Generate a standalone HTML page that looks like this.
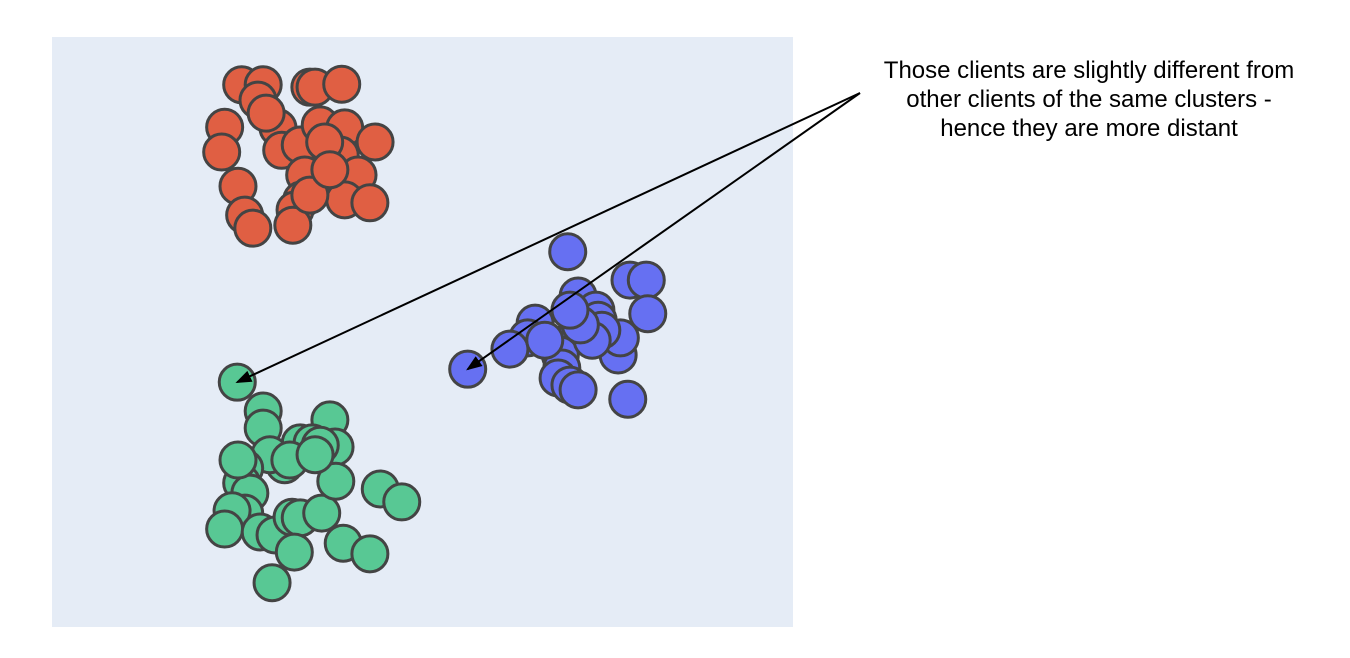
<!DOCTYPE html>
<html><head><meta charset="utf-8"><style>
body{margin:0;background:#fff;}
svg{display:block;font-family:"Liberation Sans",sans-serif;}
</style></head><body>
<svg id="chart" width="1350" height="658">
<defs><marker id="ah" markerWidth="8" markerHeight="6" refX="7" refY="3" orient="auto"><path d="M0,0 L8,3 L0,6 z" fill="#000"/></marker></defs>
<rect x="52" y="37" width="741" height="590" fill="#e5ecf6"/>
<g id="points"></g>
<g id="annot"></g>
<text x="1089" y="78" font-size="24" text-anchor="middle">Those clients are slightly different from</text>
<text x="1089" y="107" font-size="24" text-anchor="middle">other clients of the same clusters -</text>
<text x="1089" y="136" font-size="24" text-anchor="middle">hence they are more distant</text>
</svg>
<script>
const redX=[2.56,2.85,2.78,3.48,3.55,3.91,2.33,2.29,3.05,2.89,3.10,3.35,3.62,3.95,4.36,3.89,3.68,3.41,3.37,3.82,4.13,3.95,4.29,2.51,2.60,2.71,3.28,3.25,3.48,3.75];
const redY=[9.19,9.19,8.93,9.15,9.15,9.20,8.47,8.05,8.46,8.71,8.08,8.17,8.51,8.46,8.22,8.00,8.22,7.66,7.24,7.58,7.66,7.24,7.19,7.47,6.98,6.76,7.07,6.81,7.32,7.75];
const blueX=[6.96,7.80,8.02,8.04,7.10,7.34,7.37,6.52,6.42,6.18,6.79,6.86,6.88,6.83,6.99,7.10,7.64,7.67,7.42,7.29,7.13,7.77,5.61,6.65,6.99];
const blueY=[6.36,5.88,5.88,5.31,5.61,5.37,5.20,5.15,4.90,4.71,4.78,4.61,4.39,4.22,4.10,4.02,4.61,4.90,5.03,4.86,5.12,3.86,4.37,4.86,5.37];
const greenX=[2.50,2.85,2.85,3.75,3.82,3.35,3.51,3.62,3.14,2.94,2.60,2.56,2.67,2.60,2.43,2.33,2.81,3.01,3.24,3.35,3.64,3.83,3.93,4.29,4.43,4.72,3.27,2.97,3.21,3.55,2.51];
const greenY=[4.15,3.66,3.37,3.51,3.05,3.12,3.12,3.08,2.75,2.92,2.69,2.44,2.27,1.93,1.97,1.66,1.61,1.56,1.86,1.85,1.93,2.47,1.42,1.24,2.34,2.12,1.27,0.75,2.83,2.92,2.83];
const outliers=[[2.50,4.15],[5.61,4.37]];
const xS=v=>52+v*74.1, yS=v=>627-v*59;
const NS="http://www.w3.org/2000/svg";
const g=document.getElementById('points');
function draw(xs,ys,color,name){
  xs.forEach((x,i)=>{
    const c=document.createElementNS(NS,'circle');
    c.setAttribute('cx',xS(x));c.setAttribute('cy',yS(ys[i]));c.setAttribute('r',18);
    c.setAttribute('fill',color);c.setAttribute('stroke','#444');c.setAttribute('stroke-width',3);
    
    
    g.appendChild(c);
  });
}
draw(redX,redY,'#e05f43','red-cluster-point');
draw(blueX,blueY,'#6670f2','blue-cluster-point');
draw(greenX,greenY,'#58c894','green-cluster-point');
const a=document.getElementById('annot');
outliers.forEach(p=>{
  const l=document.createElementNS(NS,'line');
  l.setAttribute('x1',860);l.setAttribute('y1',93);
  l.setAttribute('x2',xS(p[0]));l.setAttribute('y2',yS(p[1]));
  l.setAttribute('stroke','#000');l.setAttribute('stroke-width',2);
  l.setAttribute('marker-end','url(#ah)');
  
  
  a.appendChild(l);
});
</script>
</body></html>
